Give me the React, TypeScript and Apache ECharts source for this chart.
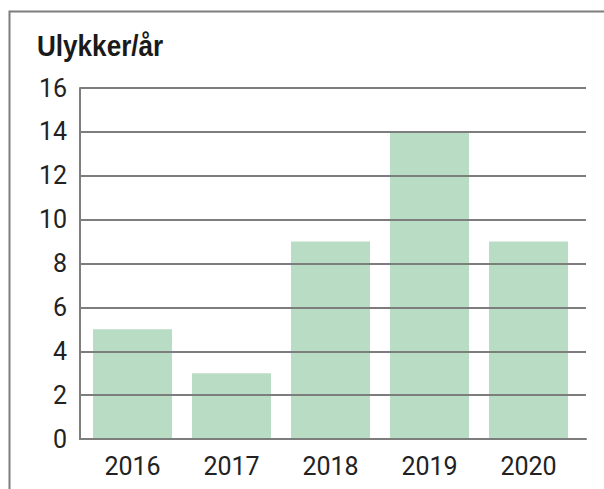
import React, { useEffect, useRef } from "react";
import * as echarts from "echarts";

const categories = ["2016", "2017", "2018", "2019", "2020"];
const values = [5, 3, 9, 14, 9];
const yMin = 0;
const yMax = 16;
const yStep = 2;
const title = "Ulykker/år";

const LINE = "#7d7d7d";
const BAR = "#b9dcc5";
const TEXT = "#222222";
const FONT = "Roboto, 'Liberation Sans', sans-serif";

export default function App() {
  const ref = useRef<HTMLDivElement>(null);
  useEffect(() => {
    document.body.style.margin = "0";
    const chart = echarts.init(ref.current!, undefined, { renderer: "svg" });
    chart.setOption({
      animation: false,
      backgroundColor: "#ffffff",
      graphic: [
        {
          type: "polyline",
          shape: { points: [[9.5, 489], [9.5, 11.5], [604, 11.5]] },
          style: { stroke: LINE, lineWidth: 2, fill: null },
        },
        {
          type: "text",
          x: 37,
          y: 31,
          scaleX: 0.87,
          style: {
            text: title,
            fill: "#1a1a1a",
            font: "bold 30px 'Liberation Sans', sans-serif",
          },
        },
      ],
      grid: [
        { left: 80, top: 88, width: 506, height: 351 },
        { left: 83, top: 88, width: 495, height: 351 },
      ],
      xAxis: [
        {
          gridIndex: 0,
          type: "value",
          min: 0,
          max: 1,
          z: 5,
          axisLine: { show: true, lineStyle: { color: LINE, width: 2 } },
          axisTick: { show: false },
          axisLabel: { show: false },
          splitLine: { show: false },
        },
        {
          gridIndex: 1,
          type: "category",
          data: categories,
          axisLine: { show: false },
          axisTick: { show: false },
          axisLabel: { color: TEXT, fontSize: 25, fontFamily: FONT, margin: 15 },
        },
      ],
      yAxis: [
        {
          gridIndex: 0,
          type: "value",
          min: yMin,
          max: yMax,
          interval: yStep,
          z: 5,
          axisLine: { show: true, lineStyle: { color: LINE, width: 2 } },
          axisTick: { show: false },
          axisLabel: { color: TEXT, fontSize: 25, fontFamily: FONT, margin: 13 },
          splitLine: { show: true, lineStyle: { color: LINE, width: 2 } },
        },
        {
          gridIndex: 1,
          type: "value",
          min: yMin,
          max: yMax,
          show: false,
          splitLine: { show: false },
        },
      ],
      series: [
        {
          type: "bar",
          xAxisIndex: 1,
          yAxisIndex: 1,
          data: values,
          barWidth: 79,
          itemStyle: { color: BAR },
        },
      ],
    });
    return () => chart.dispose();
  }, []);
  return <div ref={ref} style={{ width: 604, height: 489 }} />;
}
